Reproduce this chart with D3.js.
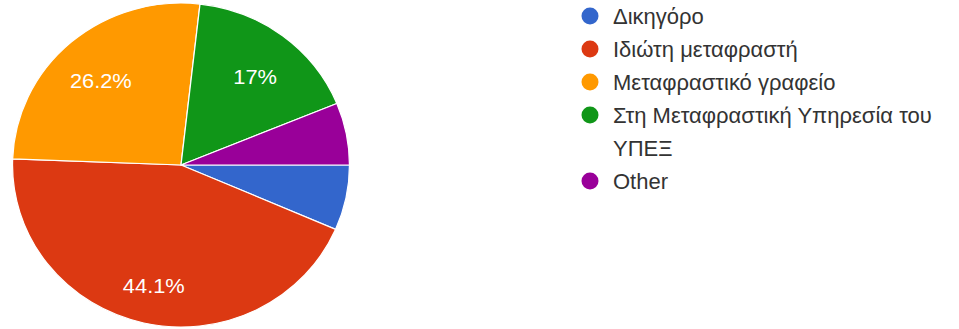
<!DOCTYPE html>
<html>
<head>
<meta charset="utf-8">
<script src="https://cdn.jsdelivr.net/npm/d3@7"></script>
<style>
  html, body { margin: 0; padding: 0; background: #fff; }
  svg { display: block; }
</style>
</head>
<body>
<svg id="chart" width="959" height="329"></svg>
<script>
// Answer categories, shares (%) and slice colours
const categories = ["Δικηγόρο", "Ιδιώτη μεταφραστή", "Μεταφραστικό γραφείο", "Στη Μεταφραστική Υπηρεσία του ΥΠΕΞ", "Other"];
const shares = [6.5, 44.1, 26.2, 17.0, 6.2];
const colors = ["#3366cc", "#dc3912", "#ff9900", "#109618", "#990099"];

const data = categories.map((c, i) => ({ name: c, value: shares[i], color: colors[i] }));

const svg = d3.select("#chart");
const fontFamily = "Arial, 'Liberation Sans', sans-serif";

// Pie geometry
const cx = 181, cy = 165, r = 162, sx = 1.04;

const pie = d3.pie()
  .value(d => d.value)
  .sort(null)
  .startAngle(Math.PI / 2)
  .endAngle(Math.PI / 2 + 2 * Math.PI);

const arc = d3.arc().innerRadius(0).outerRadius(r);
const labelArc = d3.arc().innerRadius(r * 0.73).outerRadius(r * 0.73);

const g = svg.append("g").attr("transform", `translate(${cx},${cy}) scale(${sx},1)`);

const arcs = pie(data);

g.selectAll("path.slice")
  .data(arcs)
  .join("path")
  .attr("class", "slice")
  .attr("d", arc)
  .attr("fill", d => d.data.color)
  .attr("stroke", "#fff")
  .attr("stroke-width", 1.2);

// Percentage labels on slices large enough to hold them
const fmt = v => (Math.round(v * 10) / 10).toString() + "%";
g.selectAll("text.pct")
  .data(arcs.filter(d => d.data.value >= 10))
  .join("text")
  .attr("class", "pct")
  .attr("transform", d => {
    const [x, y] = labelArc.centroid(d);
    return `translate(${x},${y + 6})`;
  })
  .attr("text-anchor", "middle")
  .attr("dominant-baseline", "central")
  .attr("font-family", fontFamily)
  .attr("font-size", 21)
  .attr("fill", "#fff")
  .text(d => fmt(d.data.value));

// Legend
const legendX = 590, legendY0 = 16, lineH = 33, maxW = 340;
const legend = svg.append("g").attr("font-family", fontFamily).attr("font-size", 22).attr("fill", "#333");

let y = legendY0;
data.forEach(d => {
  legend.append("circle")
    .attr("cx", legendX)
    .attr("cy", y)
    .attr("r", 8.5)
    .attr("fill", d.color);

  const text = legend.append("text")
    .attr("x", legendX + 23)
    .attr("y", y)
    .attr("dominant-baseline", "central");

  // simple word wrap within maxW
  const words = d.name.split(" ");
  let line = [];
  let tspan = text.append("tspan").attr("x", legendX + 23).attr("y", y);
  let lines = 1;
  words.forEach(w => {
    line.push(w);
    tspan.text(line.join(" "));
    if (tspan.node().getComputedTextLength() > maxW && line.length > 1) {
      line.pop();
      tspan.text(line.join(" "));
      line = [w];
      tspan = text.append("tspan")
        .attr("x", legendX + 23)
        .attr("y", y + lines * lineH)
        .text(w);
      lines++;
    }
  });
  y += lines * lineH;
});
</script>
</body>
</html>
